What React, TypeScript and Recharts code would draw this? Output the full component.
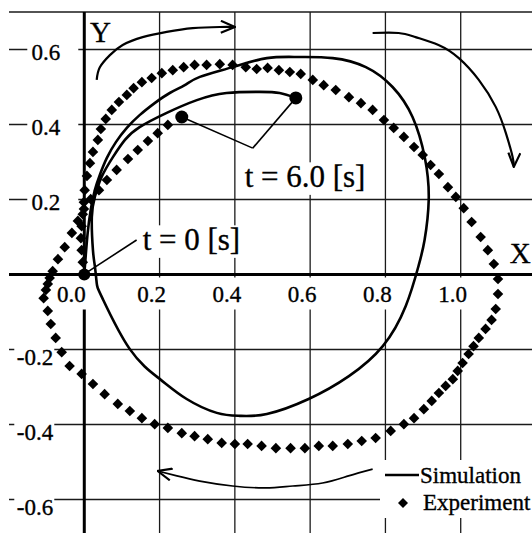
import React from 'react';
import {
  ComposedChart,
  XAxis,
  YAxis,
  CartesianGrid,
  Line,
  Scatter,
  ReferenceLine,
  ReferenceDot,
  Legend,
} from 'recharts';

// ---------- data ----------
const xTicks = [0, 0.2, 0.4, 0.6, 0.8, 1.0];
const yTicks = [0.6, 0.4, 0.2, -0.2, -0.4, -0.6];
const gridX = [-0.2, 0, 0.2, 0.4, 0.6, 0.8, 1.0, 1.2];
const gridY = [-0.6, -0.4, -0.2, 0, 0.2, 0.4, 0.6, 0.7];

const simulation = [
  { x: 0.0, y: 0.0 }, { x: 0.004, y: 0.052 }, { x: 0.009, y: 0.111 }, { x: 0.017, y: 0.172 },
  { x: 0.028, y: 0.225 }, { x: 0.041, y: 0.265 }, { x: 0.06, y: 0.311 }, { x: 0.084, y: 0.353 },
  { x: 0.113, y: 0.391 }, { x: 0.147, y: 0.425 }, { x: 0.187, y: 0.457 }, { x: 0.227, y: 0.484 },
  { x: 0.267, y: 0.505 }, { x: 0.307, y: 0.527 }, { x: 0.394, y: 0.553 }, { x: 0.485, y: 0.577 },
  { x: 0.57, y: 0.58 }, { x: 0.66, y: 0.577 }, { x: 0.748, y: 0.553 }, { x: 0.819, y: 0.5 },
  { x: 0.872, y: 0.42 }, { x: 0.905, y: 0.31 }, { x: 0.915, y: 0.199 }, { x: 0.904, y: 0.092 },
  { x: 0.888, y: 0.023 }, { x: 0.854, y: -0.084 }, { x: 0.793, y: -0.191 }, { x: 0.703, y: -0.271 },
  { x: 0.596, y: -0.332 }, { x: 0.485, y: -0.372 }, { x: 0.413, y: -0.377 }, { x: 0.352, y: -0.369 },
  { x: 0.272, y: -0.332 }, { x: 0.201, y: -0.279 }, { x: 0.121, y: -0.199 }, { x: 0.049, y: -0.065 },
  { x: 0.033, y: -0.023 }, { x: 0.028, y: 0.023 }, { x: 0.023, y: 0.065 }, { x: 0.02, y: 0.153 },
  { x: 0.028, y: 0.207 }, { x: 0.046, y: 0.26 }, { x: 0.076, y: 0.313 }, { x: 0.108, y: 0.359 },
  { x: 0.147, y: 0.393 }, { x: 0.219, y: 0.431 }, { x: 0.299, y: 0.465 }, { x: 0.378, y: 0.484 },
  { x: 0.466, y: 0.487 }, { x: 0.519, y: 0.484 }, { x: 0.562, y: 0.471 },
];

const experiment = [
  { x: 0.0, y: 0.0 }, { x: -0.004, y: 0.033 }, { x: -0.007, y: 0.065 }, { x: -0.009, y: 0.097 },
  { x: -0.007, y: 0.129 }, { x: -0.004, y: 0.161 }, { x: -0.001, y: 0.193 }, { x: 0.001, y: 0.225 },
  { x: 0.007, y: 0.263 }, { x: 0.015, y: 0.297 }, { x: 0.023, y: 0.327 }, { x: 0.036, y: 0.359 },
  { x: 0.044, y: 0.388 }, { x: 0.057, y: 0.415 }, { x: 0.073, y: 0.439 }, { x: 0.092, y: 0.46 },
  { x: 0.113, y: 0.479 }, { x: 0.131, y: 0.497 }, { x: 0.153, y: 0.513 }, { x: 0.179, y: 0.524 },
  { x: 0.206, y: 0.537 }, { x: 0.235, y: 0.545 }, { x: 0.264, y: 0.553 }, { x: 0.293, y: 0.559 },
  { x: 0.325, y: 0.559 }, { x: 0.36, y: 0.561 }, { x: 0.394, y: 0.559 }, { x: 0.429, y: 0.553 },
  { x: 0.458, y: 0.548 }, { x: 0.487, y: 0.551 }, { x: 0.517, y: 0.545 }, { x: 0.546, y: 0.54 },
  { x: 0.575, y: 0.535 }, { x: 0.607, y: 0.519 }, { x: 0.636, y: 0.505 }, { x: 0.668, y: 0.492 },
  { x: 0.703, y: 0.473 }, { x: 0.735, y: 0.457 }, { x: 0.766, y: 0.439 }, { x: 0.796, y: 0.412 },
  { x: 0.822, y: 0.391 }, { x: 0.849, y: 0.367 }, { x: 0.876, y: 0.34 }, { x: 0.899, y: 0.319 },
  { x: 0.92, y: 0.292 }, { x: 0.942, y: 0.268 }, { x: 0.966, y: 0.233 }, { x: 0.987, y: 0.207 },
  { x: 1.008, y: 0.177 }, { x: 1.029, y: 0.14 }, { x: 1.053, y: 0.1 }, { x: 1.072, y: 0.065 },
  { x: 1.088, y: 0.028 }, { x: 1.099, y: -0.012 }, { x: 1.099, y: -0.052 }, { x: 1.093, y: -0.092 },
  { x: 1.082, y: -0.121 }, { x: 1.066, y: -0.145 }, { x: 1.048, y: -0.169 }, { x: 1.034, y: -0.191 },
  { x: 1.021, y: -0.212 }, { x: 1.005, y: -0.236 }, { x: 0.992, y: -0.257 }, { x: 0.979, y: -0.279 },
  { x: 0.96, y: -0.297 }, { x: 0.942, y: -0.316 }, { x: 0.923, y: -0.337 }, { x: 0.902, y: -0.359 },
  { x: 0.876, y: -0.383 }, { x: 0.849, y: -0.399 }, { x: 0.814, y: -0.417 }, { x: 0.774, y: -0.436 },
  { x: 0.737, y: -0.444 }, { x: 0.7, y: -0.452 }, { x: 0.66, y: -0.457 }, { x: 0.623, y: -0.457 },
  { x: 0.586, y: -0.463 }, { x: 0.548, y: -0.463 }, { x: 0.509, y: -0.463 }, { x: 0.471, y: -0.457 },
  { x: 0.434, y: -0.452 }, { x: 0.4, y: -0.452 }, { x: 0.365, y: -0.449 }, { x: 0.328, y: -0.439 },
  { x: 0.293, y: -0.431 }, { x: 0.259, y: -0.423 }, { x: 0.222, y: -0.409 }, { x: 0.187, y: -0.399 },
  { x: 0.153, y: -0.383 }, { x: 0.121, y: -0.364 }, { x: 0.089, y: -0.345 }, { x: 0.054, y: -0.319 },
  { x: 0.023, y: -0.292 }, { x: -0.007, y: -0.265 }, { x: -0.039, y: -0.244 }, { x: -0.06, y: -0.207 },
  { x: -0.076, y: -0.169 }, { x: -0.089, y: -0.132 }, { x: -0.097, y: -0.097 }, { x: -0.108, y: -0.063 },
  { x: -0.102, y: -0.041 }, { x: -0.097, y: -0.025 }, { x: -0.092, y: -0.009 }, { x: -0.084, y: 0.009 },
  { x: -0.07, y: 0.041 }, { x: -0.052, y: 0.073 }, { x: -0.033, y: 0.111 }, { x: -0.017, y: 0.143 },
  { x: -0.001, y: 0.175 }, { x: 0.017, y: 0.201 }, { x: 0.039, y: 0.225 }, { x: 0.06, y: 0.252 },
  { x: 0.086, y: 0.279 }, { x: 0.116, y: 0.308 }, { x: 0.142, y: 0.332 }, { x: 0.169, y: 0.356 },
  { x: 0.195, y: 0.377 }, { x: 0.222, y: 0.399 },
];

const arrowTop = [
  { x: 0.033, y: 0.519 }, { x: 0.041, y: 0.552 }, { x: 0.068, y: 0.585 }, { x: 0.102, y: 0.612 },
  { x: 0.155, y: 0.633 }, { x: 0.219, y: 0.647 }, { x: 0.288, y: 0.657 }, { x: 0.36, y: 0.66 },
  { x: 0.4, y: 0.66 },
];
const arrowRight = [
  { x: 0.766, y: 0.644 }, { x: 0.835, y: 0.644 }, { x: 0.88, y: 0.633 }, { x: 0.941, y: 0.612 },
  { x: 0.995, y: 0.577 }, { x: 1.048, y: 0.519 }, { x: 1.093, y: 0.447 }, { x: 1.12, y: 0.377 },
  { x: 1.138, y: 0.313 }, { x: 1.141, y: 0.287 },
];
const arrowBottom = [
  { x: 0.766, y: -0.519 }, { x: 0.702, y: -0.537 }, { x: 0.633, y: -0.556 }, { x: 0.554, y: -0.564 },
  { x: 0.482, y: -0.569 }, { x: 0.394, y: -0.564 }, { x: 0.307, y: -0.551 }, { x: 0.246, y: -0.537 },
  { x: 0.195, y: -0.524 },
];

const markers = [
  { x: 0, y: 0, r: 6 },
  { x: 0.259, y: 0.42, r: 6.5 },
  { x: 0.562, y: 0.471, r: 6.5 },
];

const leaderLines = [
  [{ x: 0.009, y: 0.007 }, { x: 0.139, y: 0.092 }],
  [{ x: 0.259, y: 0.42 }, { x: 0.4475, y: 0.337 }],
  [{ x: 0.562, y: 0.471 }, { x: 0.4475, y: 0.337 }],
];

const annotations = [
  { x: 0.155, y: 0.065, text: 't = 0 [s]' },
  { x: 0.426, y: 0.233, text: 't = 6.0 [s]' },
];

const axisNames = [
  { x: 0.015, y: 0.62, text: 'Y' },
  { x: 1.13, y: 0.031, text: 'X' },
];

const seriesNames = ['Simulation', 'Experiment'];

// ---------- styles ----------
const FONT = '"Liberation Serif", "Times New Roman", serif';
const TXT = { fontFamily: FONT, fill: '#000', stroke: '#000', strokeWidth: 0.35 };

const fmt = (v: number) => v.toFixed(1);

const XTick = (props: any) => {
  const { cx, cy, value } = props;
  const c = value === 0 ? cx - 13 : cx - 8;
  return (
    <g>
      <rect x={c - 17} y={cy + 3} width={34} height={32} fill="#fff" />
      <text x={c} y={cy + 27} textAnchor="middle" fontSize={23} {...TXT}>
        {fmt(value)}
      </text>
    </g>
  );
};

const YTick = (props: any) => {
  const { cx, cy, value } = props;
  if (value > 0) {
    return (
      <g>
        <rect x={cx - 57} y={cy - 12} width={51} height={26} fill="#fff" />
        <text x={cx - 24} y={cy + 10} textAnchor="end" fontSize={23} {...TXT}>
          {fmt(value)}
        </text>
      </g>
    );
  }
  return (
    <g>
      <rect x={cx - 70} y={cy - 3} width={40} height={22} fill="#fff" />
      <text x={cx - 31} y={cy + 15} textAnchor="end" fontSize={23} {...TXT}>
        {fmt(value)}
      </text>
    </g>
  );
};

const TextLabel = (props: any) => {
  const { cx, cy, text, size, box } = props;
  const w = text.length * 0.36 * size;
  return (
    <g>
      {box && <rect x={cx - 3} y={cy - size * 0.8} width={w + 6} height={size * 1.05} fill="#fff" />}
      <text x={cx} y={cy} fontSize={size} {...TXT}>
        {text}
      </text>
    </g>
  );
};

const Diamond = (props: any) => {
  const { cx, cy } = props;
  if (cx == null || cy == null) return null;
  const s = 5.3;
  return <path d={`M${cx},${cy - s}L${cx + s},${cy}L${cx},${cy + s}L${cx - s},${cy}Z`} fill="#000" />;
};

const LegendBox = () => (
  <div style={{ width: 160, height: 58, background: '#fff' }}>
    <svg width={160} height={58}>
      <line x1={5} y1={15} x2={39} y2={15} stroke="#000" strokeWidth={2.5} />
      <text x={40} y={23} fontSize={23} {...TXT}>{seriesNames[0]}</text>
      <path d="M23,38L28,43L23,48L18,43Z" fill="#000" />
      <text x={43} y={50} fontSize={23} {...TXT}>{seriesNames[1]}</text>
    </svg>
  </div>
);

export default function App() {
  return (
    <div
      style={{
        position: 'absolute',
        left: 0,
        top: 0,
        width: 532,
        height: 533,
        overflow: 'hidden',
        background: '#fff',
      }}
    >
      <svg width={0} height={0} style={{ position: 'absolute' }}>
        <defs>
          <marker
            id="arrowHead"
            viewBox="0 0 16 14"
            refX={15}
            refY={7}
            markerWidth={16}
            markerHeight={14}
            markerUnits="userSpaceOnUse"
            orient="auto"
          >
            <path d="M1,1 L15,7 L1,13" fill="none" stroke="#000" strokeWidth={2.2} />
          </marker>
        </defs>
      </svg>
      <ComposedChart
        width={536}
        height={537}
        margin={{ top: 12, right: 0, bottom: 0, left: 9 }}
      >
        <XAxis type="number" dataKey="x" domain={[-0.2, 1.2]} allowDataOverflow hide />
        <YAxis type="number" dataKey="y" domain={[-0.7, 0.7]} allowDataOverflow hide />
        <CartesianGrid
          horizontalValues={gridY}
          verticalValues={gridX}
          stroke="#1a1a1a"
          strokeWidth={1.3}
        />
        <ReferenceLine x={0} stroke="#000" strokeWidth={3} zIndex={10} />
        <ReferenceLine y={0} stroke="#000" strokeWidth={3} zIndex={10} />
        {xTicks.map((v) => (
          <ReferenceDot key={'xt' + v} x={v} y={0} zIndex={20} shape={(p: any) => <XTick {...p} value={v} />} />
        ))}
        {yTicks.map((v) => (
          <ReferenceDot key={'yt' + v} x={0} y={v} zIndex={20} shape={(p: any) => <YTick {...p} value={v} />} />
        ))}
        {leaderLines.map((seg, i) => (
          <ReferenceLine key={'ll' + i} segment={seg} stroke="#000" strokeWidth={1.6} zIndex={30} />
        ))}
        {annotations.map((a, i) => (
          <ReferenceDot
            key={'an' + i}
            x={a.x}
            y={a.y}
            zIndex={35}
            shape={(p: any) => <TextLabel {...p} text={a.text} size={31} box />}
          />
        ))}
        {axisNames.map((a, i) => (
          <ReferenceDot
            key={'ax' + i}
            x={a.x}
            y={a.y}
            zIndex={35}
            shape={(p: any) => <TextLabel {...p} text={a.text} size={29} />}
          />
        ))}
        <Line data={arrowTop} dataKey="y" type="natural" stroke="#000" strokeWidth={2.2} dot={false} activeDot={false} markerEnd="url(#arrowHead)" isAnimationActive={false} legendType="none" zIndex={40} />
        <Line data={arrowRight} dataKey="y" type="natural" stroke="#000" strokeWidth={2.2} dot={false} activeDot={false} markerEnd="url(#arrowHead)" isAnimationActive={false} legendType="none" zIndex={40} />
        <Line data={arrowBottom} dataKey="y" type="natural" stroke="#000" strokeWidth={1.7} dot={false} activeDot={false} markerEnd="url(#arrowHead)" isAnimationActive={false} legendType="none" zIndex={40} />
        <Line
          data={simulation}
          dataKey="y"
          name={seriesNames[0]}
          type="natural"
          stroke="#000"
          strokeWidth={2.6}
          dot={false}
          activeDot={false}
          isAnimationActive={false}
          zIndex={50}
        />
        <Scatter
          data={experiment}
          dataKey="y"
          name={seriesNames[1]}
          fill="#000"
          shape={Diamond}
          isAnimationActive={false}
          zIndex={60}
        />
        {markers.map((m, i) => (
          <ReferenceDot key={'mk' + i} x={m.x} y={m.y} r={m.r} fill="#000" stroke="none" zIndex={70} />
        ))}
        <Legend
          layout="horizontal"
          verticalAlign="middle"
          align="center"
          wrapperStyle={{ left: 380, top: 460, width: 160, height: 58 }}
          content={() => <LegendBox />}
        />
      </ComposedChart>
    </div>
  );
}
